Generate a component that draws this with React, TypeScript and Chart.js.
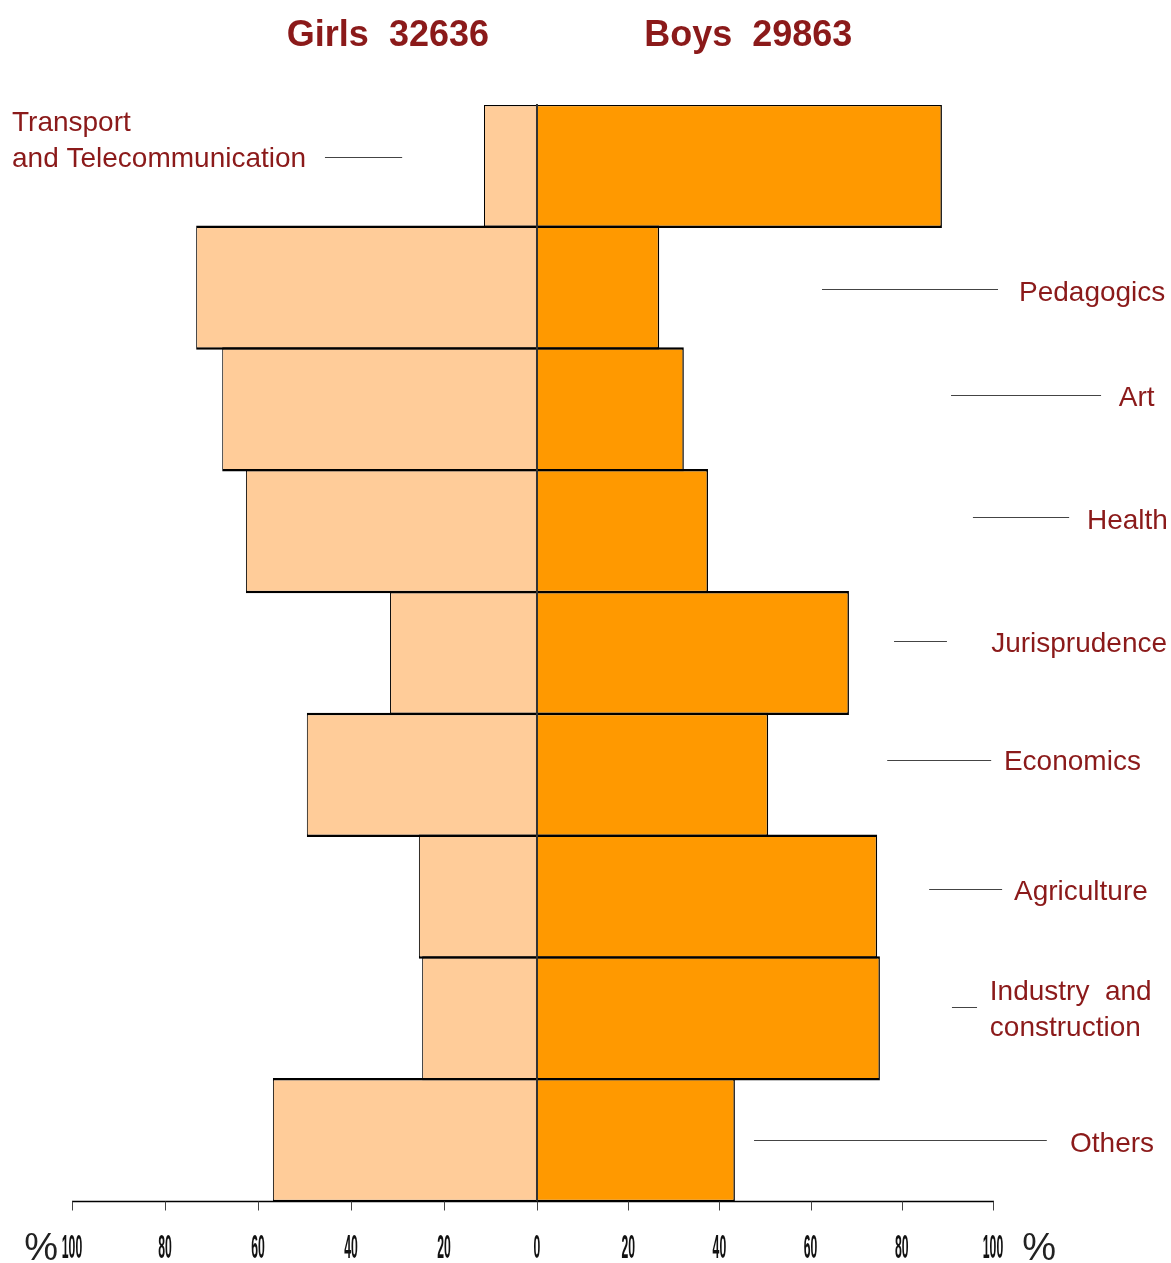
import React, { useEffect, useRef } from "react";
import { Chart, registerables } from "chart.js";

Chart.register(...registerables);

const categories = [
  "Transport and Telecommunication",
  "Pedagogics",
  "Art",
  "Health",
  "Jurisprudence",
  "Economics",
  "Agriculture",
  "Industry and construction",
  "Others",
];
const girlsPercent = [11.4, 73.3, 67.7, 62.6, 31.6, 49.5, 25.4, 24.7, 56.8];
const boysPercent = [88.8, 26.8, 32.2, 37.5, 68.4, 50.7, 74.6, 75.2, 43.4];
const girlsTicks = [-100, -80, -60, -40, -20, 0];
const boysTicks = [0, 20, 40, 60, 80, 100];
const girlsTitle = "Girls  32636";
const boysTitle = "Boys  29863";

// annotation layout (label text lines, leader line range in x-units, offsets in px)
const labelLines = [
  ["Transport", "and Telecommunication"],
  ["Pedagogics"],
  ["Art"],
  ["Health"],
  ["Jurisprudence"],
  ["Economics"],
  ["Agriculture"],
  ["Industry  and", "construction"],
  ["Others"],
];
const labelSide = ["L", "R", "R", "R", "R", "R", "R", "R", "R"];
const labelTextX = [-112.9, 105.7, 127.6, 120.6, 99.6, 102.4, 104.6, 99.3, 116.9];
const leaderFrom = [-45.6, 62.5, 90.8, 95.6, 78.3, 76.8, 86.0, 91.0, 47.6];
const leaderTo = [-29.0, 101.1, 123.7, 116.7, 89.9, 99.6, 102.0, 96.5, 111.8];
const leaderDy = [-9, 1, -14, -14, -12, -15, -8, -11, 0];
const textDy = [[-37, -1], [1], [0], [1], [0], [-1], [0], [-18, 18], [1]];

const RED = "#8b1a1a";
const GIRLS_COLOR = "#ffcc99";
const BOYS_COLOR = "#ff9900";

const overlayPlugin = {
  id: "overlay",
  afterDatasetsDraw(chart: any) {
    const { ctx, chartArea } = chart;
    const x = chart.scales.xR;
    const cx = x.getPixelForValue(0);
    ctx.save();
    ctx.strokeStyle = "#333";
    ctx.lineWidth = 2;
    ctx.beginPath();
    ctx.moveTo(cx, chartArea.top - 1);
    ctx.lineTo(cx, chartArea.bottom);
    ctx.stroke();
    ctx.restore();
  },
  afterDraw(chart: any) {
    const { ctx, chartArea } = chart;
    const xL = chart.scales.xL;
    const xR = chart.scales.xR;
    const y = chart.scales.y;
    ctx.save();

    // bottom axis line
    const ay = chartArea.bottom + 0.5;
    ctx.strokeStyle = "#000";
    ctx.lineWidth = 1.5;
    ctx.beginPath();
    ctx.moveTo(xL.getPixelForValue(-100), ay);
    ctx.lineTo(xR.getPixelForValue(100) + 1, ay);
    ctx.stroke();
    ctx.strokeStyle = "#444";
    ctx.lineWidth = 1;
    const tickList: Array<[any, number]> = [
      ...girlsTicks.map((v) => [xL, v] as [any, number]),
      ...boysTicks.slice(1).map((v) => [xR, v] as [any, number]),
    ];
    tickList.forEach(([sc, v]) => {
      const px = Math.round(sc.getPixelForValue(v)) + 0.5;
      ctx.beginPath();
      ctx.moveTo(px, ay);
      ctx.lineTo(px, ay + 9);
      ctx.stroke();
    });

    // condensed tick labels
    ctx.fillStyle = "#111";
    ctx.font = 'bold 33px "Liberation Sans", Arial, sans-serif';
    ctx.textAlign = "center";
    ctx.textBaseline = "alphabetic";
    tickList.forEach(([sc, v]) => {
      const px = sc.getPixelForValue(v);
      ctx.save();
      ctx.translate(px, chartArea.bottom + 57);
      ctx.scale(0.37, 1);
      ctx.fillText(String(Math.abs(v)), 0, 0);
      ctx.restore();
    });

    // percent signs
    ctx.font = '38px "Liberation Sans", Arial, sans-serif';
    ctx.fillStyle = "#222";
    ctx.textAlign = "right";
    ctx.fillText("%", xL.getPixelForValue(-103.0), chartArea.bottom + 59);
    ctx.textAlign = "left";
    ctx.fillText("%", xR.getPixelForValue(106.4), chartArea.bottom + 59);

    // titles
    ctx.fillStyle = RED;
    ctx.font = 'bold 36px "Liberation Sans", Arial, sans-serif';
    ctx.textAlign = "left";
    ctx.fillText(girlsTitle, xL.getPixelForValue(-53.8), chartArea.top - 59);
    ctx.fillText(boysTitle, xR.getPixelForValue(23.5), chartArea.top - 59);

    // category labels with leader lines
    categories.forEach((c, i) => {
      const sc = labelSide[i] === "L" ? xL : xR;
      const cy = y.getPixelForValue(i);
      const ly = Math.round(cy + leaderDy[i]) + 0.5;
      ctx.strokeStyle = "#444";
      ctx.lineWidth = 1;
      ctx.beginPath();
      ctx.moveTo(sc.getPixelForValue(leaderFrom[i]), ly);
      ctx.lineTo(sc.getPixelForValue(leaderTo[i]), ly);
      ctx.stroke();
      ctx.fillStyle = RED;
      ctx.font = '28px "Liberation Sans", Arial, sans-serif';
      ctx.textAlign = "left";
      ctx.textBaseline = "alphabetic";
      labelLines[i].forEach((t, j) => {
        ctx.fillText(t, sc.getPixelForValue(labelTextX[i]), ly + textDy[i][j] + 10);
      });
    });
    ctx.restore();
  },
};

export default function App() {
  const ref = useRef<HTMLCanvasElement | null>(null);
  useEffect(() => {
    if (!ref.current) return;
    const chart = new Chart(ref.current, {
      type: "bar",
      data: {
        labels: categories,
        datasets: [
          {
            label: "Girls",
            data: girlsPercent.map((v) => -v),
            xAxisID: "xL",
            backgroundColor: GIRLS_COLOR,
            borderColor: "#000",
            borderWidth: { top: 2.5, bottom: 2.5, left: 1, right: 1 },
            borderSkipped: "start",
            barPercentage: 1.02,
            categoryPercentage: 1,
            grouped: false,
            inflateAmount: 0,
          },
          {
            label: "Boys",
            data: boysPercent,
            xAxisID: "xR",
            backgroundColor: BOYS_COLOR,
            borderColor: "#000",
            borderWidth: { top: 2.5, bottom: 2.5, left: 1.5, right: 1.5 },
            borderSkipped: "start",
            barPercentage: 1.02,
            categoryPercentage: 1,
            grouped: false,
            inflateAmount: 0,
          },
        ],
      },
      options: {
        indexAxis: "y",
        animation: false,
        responsive: false,
        maintainAspectRatio: false,
        layout: { padding: { left: 72, right: 178, top: 105, bottom: 62 } },
        plugins: {
          legend: { display: false },
          tooltip: { enabled: false },
          title: { display: false },
        },
        scales: {
          // left half: 0 at 465px from the left edge over 100 units; right half: 456px over 100 units
          xL: { type: "linear", axis: "x", position: "bottom", min: -100, max: 98.06, display: false },
          xR: { type: "linear", axis: "x", position: "bottom", min: -101.97, max: 100, display: false },
          y: { type: "category", display: false },
        },
      },
      plugins: [overlayPlugin],
    } as any);
    return () => chart.destroy();
  }, []);
  return (
    <div style={{ position: "absolute", left: 0, top: 0, width: 1171, height: 1263, background: "#fff" }}>
      <canvas ref={ref} width={1171} height={1263} style={{ width: 1171, height: 1263 }} />
    </div>
  );
}
